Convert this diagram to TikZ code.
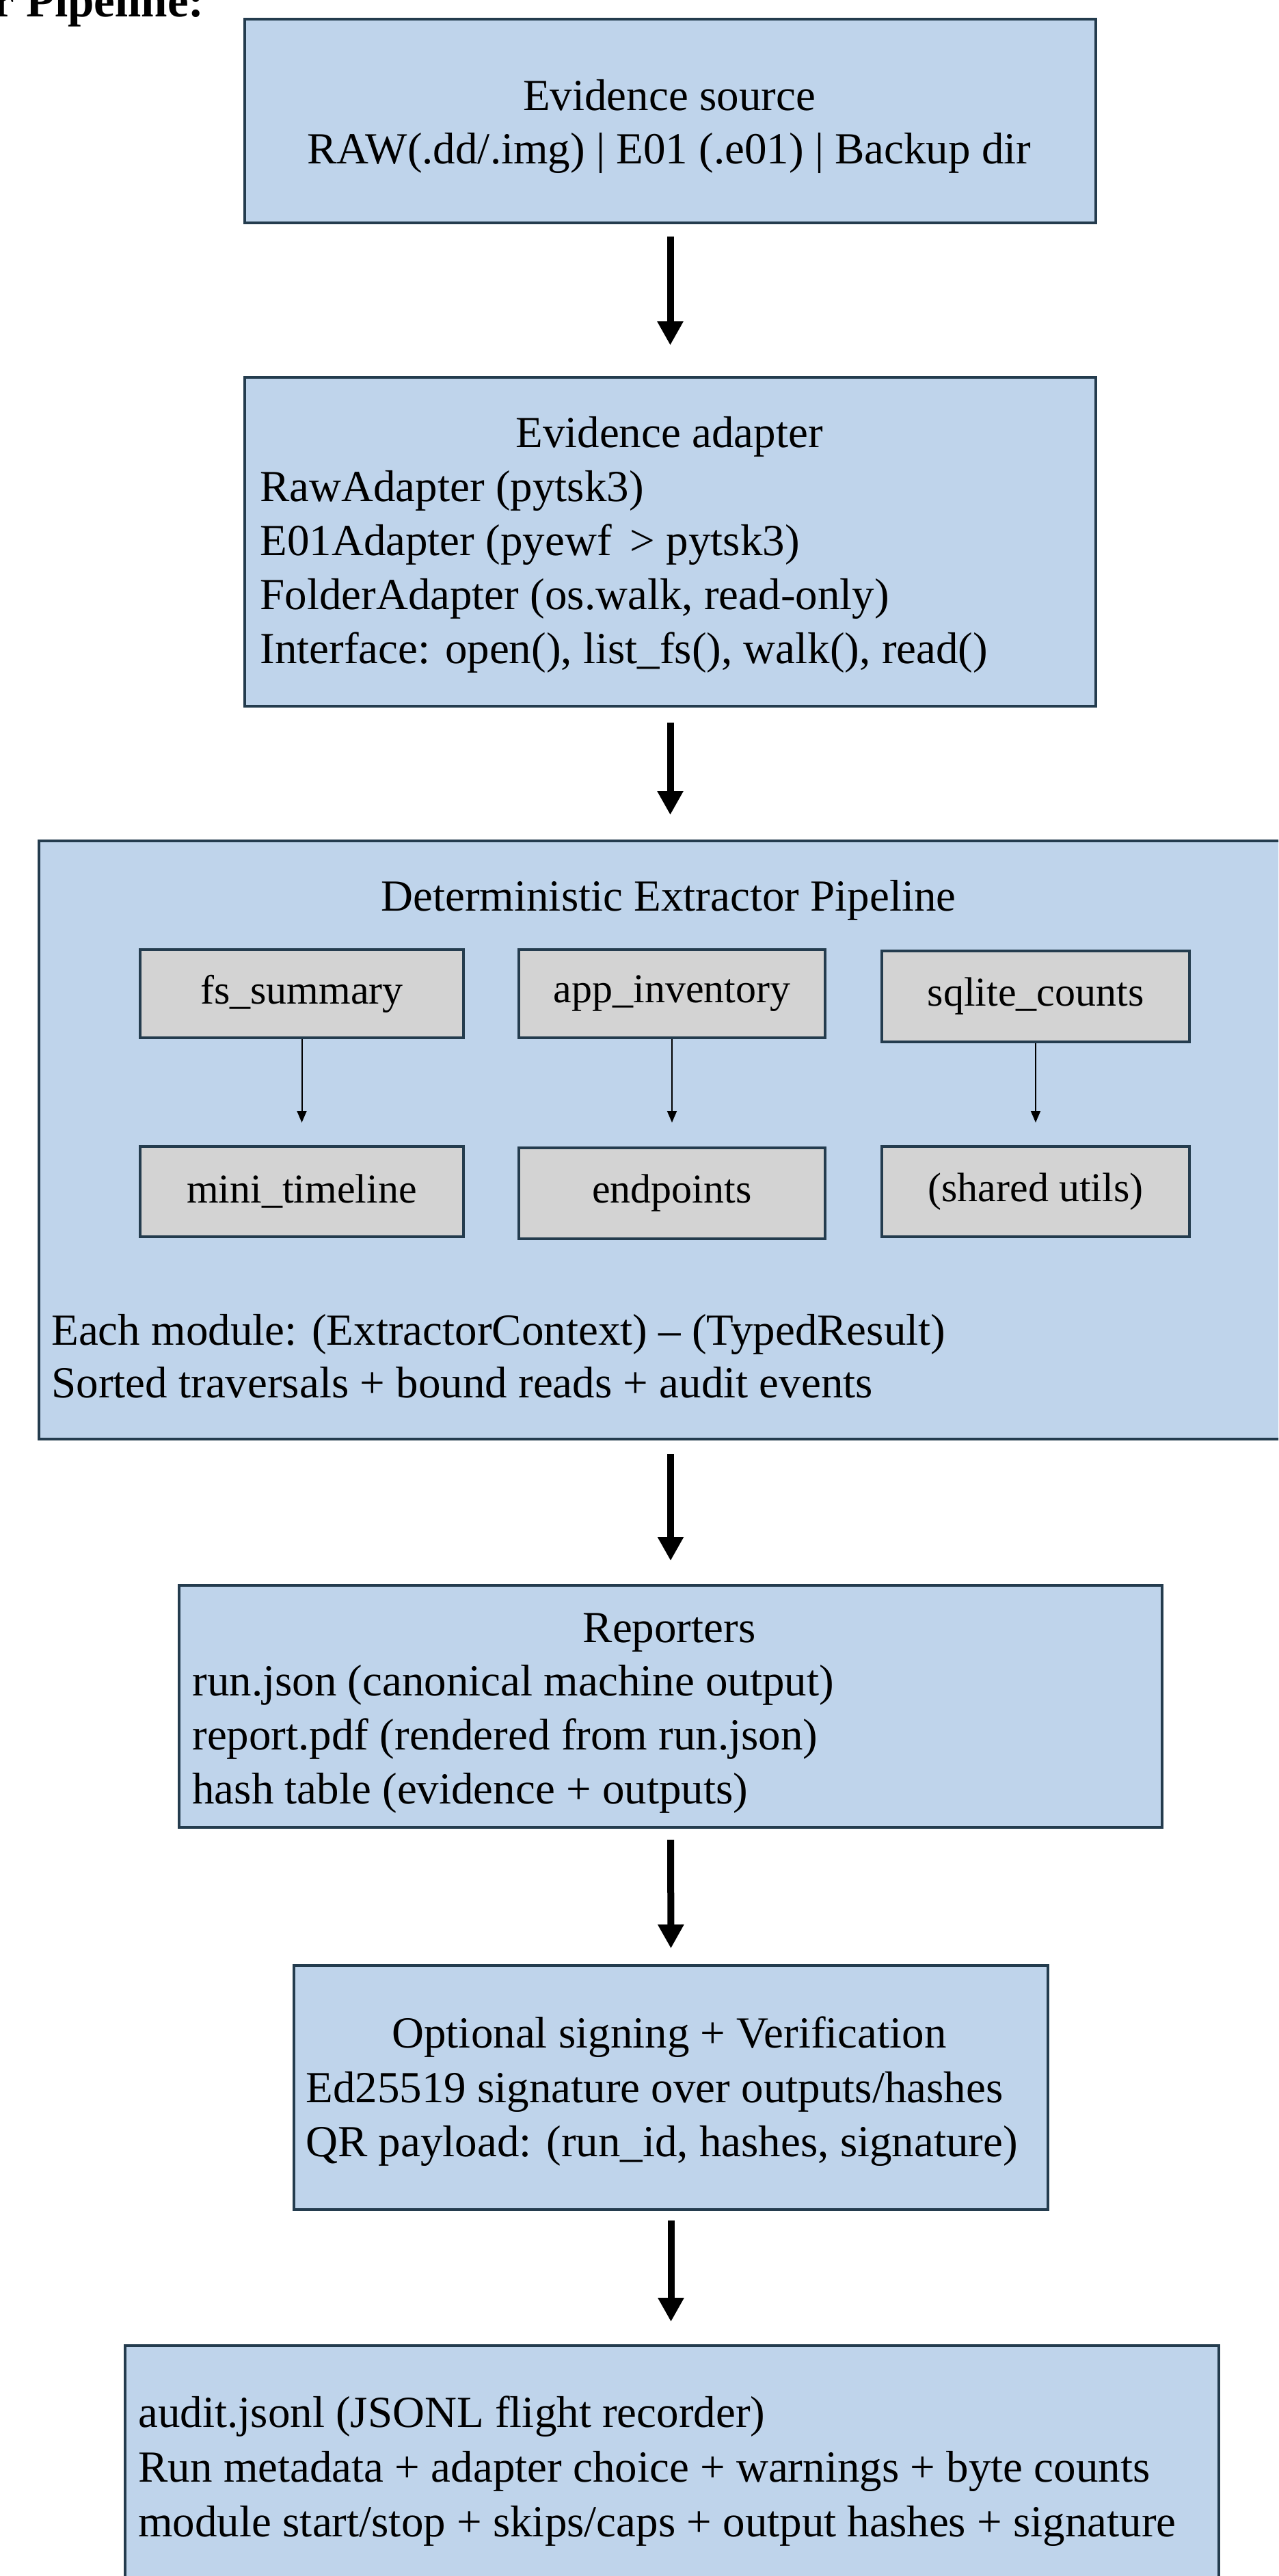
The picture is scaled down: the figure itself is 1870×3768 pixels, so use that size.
\documentclass[tikz,border=0pt]{standalone}
\usepackage{fontspec}
\setmainfont{Liberation Serif}
\usetikzlibrary{arrows.meta}
\definecolor{boxblue}{RGB}{191,212,235}
\definecolor{boxedge}{RGB}{36,60,78}
\definecolor{modgray}{RGB}{211,211,211}
\tikzset{
  bluebox/.style={draw=boxedge, line width=2pt, fill=boxblue, rectangle, inner sep=0pt, anchor=north west},
  graybox/.style={draw=boxedge, line width=2pt, fill=modgray, rectangle, inner sep=0pt, anchor=north west,
                  font=\fontsize{30pt}{36pt}\selectfont},
  txt/.style={inner sep=0pt, font=\fontsize{32.5pt}{39pt}\selectfont},
  lefttxt/.style={txt, anchor=base west},
  midtxt/.style={txt, anchor=base},
  mainarrow/.style={-{Triangle[width=18pt,length=17.5pt]}, line width=5pt, black},
  subarrow/.style={-{Triangle[width=7pt,length=8.5pt]}, line width=1pt, black},
}
\begin{document}
\begin{tikzpicture}[x=0.5pt,y=-0.5pt]
\useasboundingbox (0,0) rectangle (1870,3768);
\clip (0,0) rectangle (1870,3768);

% heading (cut off at the top-left)
\node[inner sep=0pt, anchor=base west, font=\fontsize{34.5pt}{40pt}\selectfont\bfseries] (head) at (-10,25) {r Pipeline:};

% main boxes
\node[bluebox, minimum width=622.5pt, minimum height=149pt] (b1) at (356,26) {};
\node[bluebox, minimum width=622.5pt, minimum height=240.5pt] (b2) at (356,550) {};
\node[bluebox, minimum width=920pt, minimum height=437.5pt] (b3) at (55,1228) {};
\node[bluebox, minimum width=719pt, minimum height=177pt] (b4) at (260,2317) {};
\node[bluebox, minimum width=551.5pt, minimum height=178.5pt] (b5) at (428,2873) {};
\node[bluebox, minimum width=800pt, minimum height=179pt] (b6) at (181,3429) {};

% box 1 text
\node[midtxt] (t11) at (979,162) {Evidence source};
\node[midtxt] (t12) at (979,239) {RAW(.dd/.img) | E01 (.e01) | Backup dir};

% box 2 text
\node[midtxt] (t21) at (979,654) {Evidence adapter};
\node[lefttxt] (t22) at (380,733) {RawAdapter (pytsk3)};
\node[lefttxt] (t23) at (380,812) {E01Adapter (pyewf \,> pytsk3)};
\node[lefttxt] (t24) at (380,891) {FolderAdapter (os.walk, read-only)};
\node[lefttxt] (t25) at (380,970) {Interface: open(), list\_fs(), walk(), read()};

% box 3 text
\node[midtxt] (t31) at (978,1332) {Deterministic Extractor Pipeline};
\node[lefttxt] (t32) at (75,1967) {Each module: (ExtractorContext) – (TypedResult)};
\node[lefttxt] (t33) at (75,2044) {Sorted traversals + bound reads + audit events};

% modules
\node[graybox, minimum width=236.5pt, minimum height=64.5pt] (fs) at (203,1387) {fs\_summary};
\node[graybox, minimum width=224pt, minimum height=64.5pt] (app) at (757,1387) {app\_inventory};
\node[graybox, minimum width=225pt, minimum height=66.5pt] (sq) at (1288,1389) {sqlite\_counts};
\node[graybox, minimum width=236.5pt, minimum height=66pt] (mini) at (203,1675) {mini\_timeline};
\node[graybox, minimum width=224pt, minimum height=66.5pt] (endp) at (757,1677) {endpoints};
\node[graybox, minimum width=225pt, minimum height=66pt] (shared) at (1288,1675) {(shared utils)};

% box 4 text
\node[midtxt] (t41) at (979,2402) {Reporters};
\node[lefttxt] (t42) at (281,2480) {run.json (canonical machine output)};
\node[lefttxt] (t43) at (281,2559) {report.pdf (rendered from run.json)};
\node[lefttxt] (t44) at (281,2638) {hash table (evidence + outputs)};

% box 5 text
\node[midtxt] (t51) at (979,2995) {Optional signing + Verification};
\node[lefttxt] (t52) at (447,3075) {Ed25519 signature over outputs/hashes};
\node[lefttxt] (t53) at (447,3154) {QR payload: (run\_id, hashes, signature)};

% box 6 text
\node[lefttxt] (t61) at (202,3550) {audit.jsonl (JSONL flight recorder)};
\node[lefttxt] (t62) at (202,3630) {Run metadata + adapter choice + warnings + byte counts};
\node[lefttxt] (t63) at (202,3710) {module start/stop + skips/caps + output hashes + signature};

% main arrows
\draw[mainarrow, shorten <=9pt, shorten >=22.5pt] (b1.south) -- (b2.north);
\draw[mainarrow, shorten <=11pt, shorten >=18pt] (b2.south) -- (b2.south |- b3.north);
\draw[mainarrow, shorten <=10pt, shorten >=17pt] (b4.north |- b3.south) -- (b4.north);
\draw[mainarrow, shorten <=8pt, shorten >=11.5pt] (b4.south) -- (b5.north);
\draw[mainarrow, shorten <=7pt, shorten >=16.5pt] (b5.south) -- (b5.south |- b6.north);

% module arrows
\draw[subarrow, shorten >=16.5pt] (fs.south) -- (mini.north);
\draw[subarrow, shorten >=17.5pt] (app.south) -- (endp.north);
\draw[subarrow, shorten >=16.5pt] (sq.south) -- (sq.south |- shared.north);
\end{tikzpicture}
\end{document}
